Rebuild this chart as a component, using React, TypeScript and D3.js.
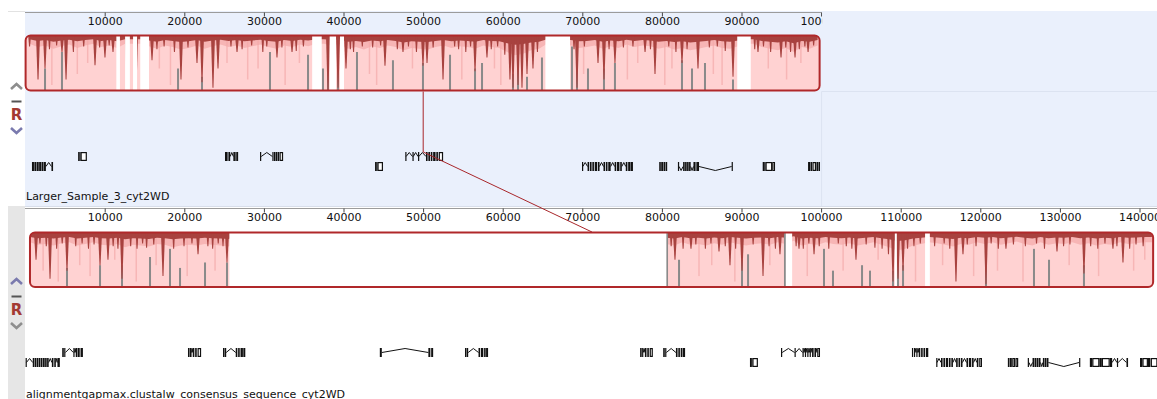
import React from "react";
import * as d3 from "d3";

// ---------- data (kb unless noted) ----------
const topTicks = [10000, 20000, 30000, 40000, 50000, 60000, 70000, 80000, 90000, 100000];
const bottomTicks = [10000, 20000, 30000, 40000, 50000, 60000, 70000, 80000, 90000, 100000, 110000, 120000, 130000, 140000];

const topName = "Larger_Sample_3_cyt2WD";
const bottomName = "alignmentgapmax.clustalw_consensus_sequence_cyt2WD";

const topExtent = [0, 99.75];
const bottomExtent = [0.55, 141.65];

// similarity (%) per 1 kb bin
const topSim = [
  90, 86, 88, 84, 87, 89, 85, 88, 90, 86,
  88, 85, 90, 90, 90, 87, 84, 88, 86, 83,
  85, 88, 84, 87, 89, 86, 88, 85, 87, 89,
  86, 84, 88, 86, 89, 87, 90, 90, 88, 90,
  84, 86, 83, 87, 85, 88, 86, 82, 85, 84,
  83, 86, 88, 85, 87, 86, 84, 88, 86, 85,
  80, 76, 78, 82, 84, 90, 90, 90, 88, 85,
  86, 88, 84, 87, 85, 89, 86, 88, 87, 84,
  86, 83, 85, 82, 84, 86, 88, 85, 84, 87,
  90, 90, 86, 84, 82, 85, 80, 86, 84, 88,
];
const bottomSim = [
  88, 85, 86, 84, 87, 88, 84, 86, 88, 85,
  84, 86, 82, 85, 84, 83, 86, 85, 82, 84,
  85, 84, 86, 85, 84, 83, 90, 90, 90, 90,
  90, 90, 90, 90, 90, 90, 90, 90, 90, 90,
  90, 90, 90, 90, 90, 90, 90, 90, 90, 90,
  90, 90, 90, 90, 90, 90, 90, 90, 90, 90,
  90, 90, 90, 90, 90, 90, 90, 90, 90, 90,
  90, 90, 90, 90, 90, 90, 90, 90, 90, 90,
  86, 84, 88, 85, 86, 84, 87, 85, 88, 86,
  84, 86, 87, 85, 88, 86, 90, 84, 86, 85,
  88, 86, 85, 87, 84, 86, 88, 85, 82, 78,
  80, 84, 86, 88, 87, 85, 83, 86, 85, 88,
  86, 88, 85, 87, 89, 86, 84, 88, 85, 87,
  86, 88, 85, 87, 84, 86, 85, 88, 86, 87,
  88, 88,
];

const topGaps = [[11.4, 11.85], [12.5, 13.1], [13.5, 14.0], [14.4, 15.5], [36.0, 37.2], [38.2, 39.0], [39.5, 40.0], [65.3, 68.4], [89.4, 91.1]];
const bottomGaps = [[25.6, 80.5], [95.5, 96.3], [109.2, 109.45], [113.0, 113.6]];

// [kb, depth fraction]
const topSpikes = [[1.56, 0.8], [2.44, 0.6], [4.57, 0.3], [5.08, 0.8], [8.72, 0.54], [9.97, 0.4], [10.98, 0.3], [12.74, 0.8], [13.87, 0.95], [15.88, 0.45], [19.52, 0.8], [21.53, 0.5], [22.16, 0.85], [23.54, 0.95], [24.17, 0.6], [26.56, 0.3], [31.58, 0.4], [33.47, 0.3], [37.99, 1.0], [39.25, 0.95], [40.25, 0.6], [45.15, 0.55], [47.41, 0.3], [49.92, 0.55], [50.43, 0.5], [52.44, 0.8], [56.46, 0.65], [57.96, 0.4], [60.85, 0.8], [61.23, 0.95], [61.86, 0.9], [62.36, 0.95], [62.99, 0.7], [63.74, 0.6], [69.27, 0.95], [71.91, 0.5], [72.66, 0.8], [74.04, 0.5], [77.82, 0.3], [79.07, 0.7], [82.46, 0.5], [84.47, 0.6], [88.87, 0.75], [92.01, 0.3], [94.9, 0.4], [96.66, 0.4], [98.3, 0.3]];
const bottomSpikes = [[1.31, 0.5], [3.07, 0.85], [5.2, 0.7], [9.35, 0.6], [10.35, 0.5], [12.11, 0.85], [17.26, 0.8], [21.66, 0.4], [25.3, 0.55], [81.58, 0.5], [83.59, 0.3], [87.11, 0.35], [88.49, 0.6], [90.0, 0.7], [92.64, 0.8], [94.77, 0.4], [97.16, 0.3], [99.05, 0.4], [104.32, 0.5], [108.97, 0.9], [109.6, 0.85], [110.23, 0.7], [116.88, 0.9], [117.76, 0.4], [120.65, 0.95], [123.16, 0.3], [129.57, 0.35], [132.96, 0.75], [136.6, 0.3], [137.86, 0.55]];

// small dips along the top edge [kb, depth fraction]
const topMinor = [[0.5, .2], [3.0, .25], [3.9, .18], [6.0, .3], [7.3, .2], [9.3, .22], [10.5, .18], [16.5, .25], [17.4, .2], [18.7, .3], [20.4, .22], [25.8, .2], [27.2, .25], [28.4, .18], [29.8, .3], [30.3, .2], [32.2, .22], [34.0, .28], [34.9, .2], [40.8, .25], [41.2, .3], [42.3, .2], [43.6, .22], [44.6, .18], [46.7, .25], [48.1, .2], [49.1, .3], [51.2, .22], [53.9, .2], [54.4, .25], [55.3, .3], [55.9, .2], [58.5, .25], [59.3, .2], [60.2, .35], [64.3, .3], [68.9, .25], [70.2, .2], [73.3, .25], [75.1, .22], [76.3, .2], [78.5, .25], [80.8, .2], [81.7, .3], [83.1, .25], [85.9, .22], [86.9, .2], [87.9, .28], [91.6, .25], [92.7, .2], [93.6, .3], [95.5, .22], [96.1, .3], [97.2, .25], [97.9, .2], [99.0, .18]];
const bottomMinor = [[1.8, .2], [2.6, .25], [3.9, .3], [4.6, .2], [6.3, .25], [7.1, .2], [7.9, .3], [8.6, .22], [11.0, .25], [11.6, .3], [13.2, .25], [14.0, .3], [14.7, .2], [15.2, .28], [16.1, .22], [18.6, .3], [19.9, .25], [20.9, .2], [22.9, .25], [23.5, .3], [24.2, .2], [24.8, .25], [81.1, .25], [82.6, .3], [84.2, .22], [85.4, .3], [86.1, .2], [87.9, .25], [89.2, .3], [91.4, .22], [93.4, .25], [94.2, .3], [96.8, .25], [97.7, .3], [98.4, .2], [99.7, .25], [100.9, .3], [102.1, .2], [103.1, .25], [103.8, .3], [105.6, .22], [106.7, .28], [107.6, .3], [108.4, .4], [110.8, .3], [111.6, .25], [112.4, .2], [114.2, .25], [115.4, .2], [116.1, .3], [118.3, .22], [119.4, .25], [121.3, .2], [122.2, .3], [124.1, .22], [125.6, .25], [127.0, .2], [128.0, .3], [130.4, .25], [131.2, .22], [133.8, .25], [134.7, .3], [135.6, .2], [137.1, .25], [138.7, .3], [139.5, .22], [140.4, .25]];

// [kb, top fraction]
const topGray = [[2.44, 0.6], [4.57, 0.3], [12.74, 0.75], [13.87, 0.6], [19.15, 0.6], [22.16, 0.75], [30.7, 0.3], [35.48, 0.35], [37.36, 0.6], [37.99, 0.5], [39.25, 0.5], [41.63, 0.3], [46.15, 0.45], [49.92, 0.5], [53.32, 0.35], [56.46, 0.6], [57.34, 0.5], [61.23, 0.7], [61.86, 0.6], [62.99, 0.75], [64.87, 0.4], [68.64, 0.2], [69.27, 0.3], [70.65, 0.6], [72.66, 0.6], [74.04, 0.5], [82.46, 0.45], [83.72, 0.6], [85.35, 0.5], [88.87, 0.8]];
const bottomGray = [[5.2, 0.65], [9.35, 0.6], [12.11, 0.6], [15.63, 0.45], [18.14, 0.3], [19.4, 0.65], [22.54, 0.55], [25.3, 0.55], [80.58, 0.0], [82.09, 0.5], [90.0, 0.5], [90.76, 0.4], [95.4, 0.0], [100.3, 0.3], [101.43, 0.7], [105.08, 0.6], [106.08, 0.7], [108.97, 0.7], [109.6, 0.5], [110.23, 0.6], [113.24, 0.5], [120.65, 0.1], [126.68, 0.3], [128.57, 0.5], [132.96, 0.6]];

// [kb, depth fraction]
const topLight = [[3.3, 0.9], [6.5, 0.7], [7.8, 0.5], [16.8, 0.6], [18.2, 0.9], [25.3, 0.5], [27.9, 0.8], [29.2, 0.6], [32.6, 0.9], [34.4, 0.5], [43.2, 0.7], [44.1, 0.9], [48.6, 0.6], [54.8, 0.8], [58.9, 0.6], [59.7, 0.9], [70.1, 0.7], [75.6, 0.8], [76.9, 0.5], [80.3, 0.9], [81.2, 0.6], [86.4, 0.7], [87.5, 0.9], [93.3, 0.6], [95.6, 0.8], [97.4, 0.5]];
const bottomLight = [[2.2, 0.7], [4.1, 0.9], [6.8, 0.6], [8.1, 0.8], [11.2, 0.5], [13.9, 0.9], [16.4, 0.6], [20.3, 0.8], [23.8, 0.7], [84.6, 0.8], [86.2, 0.6], [89.1, 0.9], [93.5, 0.6], [98.2, 0.8], [102.7, 0.7], [107.1, 0.5], [111.8, 0.9], [115.2, 0.6], [119.1, 0.8], [122.1, 0.7], [125.3, 0.9], [131.1, 0.6], [134.8, 0.8], [139.2, 0.7], [140.6, 0.5]];

type Gene = { row: number; dip?: boolean; exons: number[][] };

const topGenes: Gene[] = [
  { row: 1, exons: [[0.8, 1.05], [1.1, 1.35], [1.4, 1.65], [1.7, 1.95], [2.0, 2.25], [2.3, 2.55], [3.25, 3.45]] },
  { row: 0, exons: [[6.6, 6.75], [6.75, 6.9], [6.9, 7.7]] },
  { row: 0, exons: [[25.05, 25.3], [25.35, 25.5], [25.55, 25.7], [26.1, 26.3], [26.35, 26.5], [26.5, 26.7]] },
  { row: 0, exons: [[29.45, 29.6], [31.0, 31.15], [31.2, 31.4], [31.45, 31.6], [31.65, 31.85], [31.9, 32.35]] },
  { row: 1, exons: [[43.9, 44.05], [44.05, 44.2], [44.2, 44.9]] },
  { row: 0, exons: [[47.7, 47.8], [48.6, 48.7], [49.3, 49.4], [50.3, 50.5], [50.6, 50.8], [50.9, 51.1], [51.2, 51.5], [51.6, 51.8], [51.9, 52.45]] },
  { row: 1, exons: [[69.9, 70.0], [70.6, 70.8], [70.9, 71.1], [71.2, 71.4], [71.5, 71.8], [71.9, 72.1], [72.6, 72.8], [72.9, 73.1], [73.2, 73.5], [74.0, 74.2], [74.3, 74.6], [74.7, 74.9], [75.4, 75.6], [75.7, 76.0], [76.05, 76.3]] },
  { row: 1, exons: [[79.6, 79.8], [79.85, 80.1], [80.15, 80.35], [80.4, 80.6]] },
  { row: 1, dip: true, exons: [[81.95, 82.1], [82.6, 82.8], [82.85, 83.05], [83.1, 83.3], [83.35, 83.55], [83.9, 84.1], [84.15, 84.3], [84.35, 84.6], [88.7, 88.85]] },
  { row: 1, exons: [[92.6, 92.8], [92.8, 92.95], [92.95, 93.8], [93.8, 94.15]] },
  { row: 1, exons: [[98.3, 98.55], [98.6, 98.8], [98.85, 99.3], [99.35, 99.55], [99.6, 99.8]] },
];

const bottomGenes: Gene[] = [
  { row: 1, exons: [[0.0, 0.1], [0.9, 1.1], [1.15, 1.35], [1.4, 1.6], [1.65, 1.85], [1.9, 2.1], [2.15, 2.4], [2.45, 2.65], [2.7, 2.9], [3.3, 3.5], [3.6, 3.8], [4.0, 4.3]] },
  { row: 0, exons: [[4.6, 4.8], [4.85, 5.0], [6.0, 6.15], [6.3, 6.5], [6.55, 6.8], [6.9, 7.2]] },
  { row: 0, exons: [[20.4, 20.6], [20.65, 20.85], [21.0, 21.2], [21.3, 21.5], [21.6, 22.05]] },
  { row: 0, exons: [[24.8, 25.0], [25.05, 25.2], [26.4, 26.6], [26.7, 26.9], [27.0, 27.3], [27.35, 27.6]] },
  { row: 0, exons: [[44.5, 44.75], [50.6, 50.85], [50.95, 51.2]] },
  { row: 0, exons: [[55.2, 55.4], [55.45, 55.6], [56.9, 57.1], [57.2, 57.5], [57.6, 57.8], [57.85, 58.1]] },
  { row: 0, exons: [[77.2, 77.4], [77.45, 77.6], [77.8, 78.0], [78.1, 78.3], [78.4, 78.8]] },
  { row: 0, exons: [[80.1, 80.3], [80.35, 80.5], [81.7, 81.9], [82.0, 82.2], [82.3, 82.5], [82.55, 82.85]] },
  { row: 1, exons: [[91.0, 91.15], [91.15, 91.3], [91.3, 92.0]] },
  { row: 0, exons: [[94.9, 95.05], [96.6, 96.75], [97.6, 97.75], [97.9, 98.05], [98.2, 98.35], [98.5, 98.65], [98.8, 99.0], [99.1, 99.3], [99.45, 99.8]] },
  { row: 0, exons: [[111.35, 111.5], [111.6, 111.75], [111.9, 112.05], [112.2, 112.4], [112.5, 112.7], [112.8, 113.0], [113.1, 113.4]] },
  { row: 1, exons: [[114.4, 114.5], [115.0, 115.2], [115.3, 115.5], [115.6, 115.9], [116.0, 116.2], [116.3, 116.5], [116.9, 117.1], [117.2, 117.4], [117.5, 117.7], [118.2, 118.4], [118.5, 118.8], [118.9, 119.1], [119.5, 119.7], [119.8, 120.15]] },
  { row: 1, exons: [[123.4, 123.6], [123.65, 123.9], [123.95, 124.3], [124.35, 124.7]] },
  { row: 1, dip: true, exons: [[125.9, 126.05], [126.5, 126.7], [126.75, 126.95], [127.0, 127.2], [127.25, 127.5], [127.8, 128.0], [128.05, 128.2], [128.25, 128.5], [132.35, 132.5]] },
  { row: 1, exons: [[133.7, 134.0], [134.0, 134.9], [134.9, 135.2], [135.2, 136.2], [136.2, 136.5], [137.1, 137.25], [138.3, 138.5]] },
  { row: 1, exons: [[140.0, 140.3], [140.3, 141.0], [141.0, 141.3], [141.35, 142.2]] },
];

// homologous cursor position (bp) in each sequence
const cursorTop = 49950;
const cursorBottom = 71150;

// ---------- drawing ----------
const xs = d3.scaleLinear().domain([0, 100000]).range([25.6, 821.6]);
const kx = (kb: number) => xs(kb * 1000);

const DARK = "#A8423F";
const SALMON = "#F3A8A8";
const PINK = "#FFD2D2";
const LIGHT = "#F7B6B6";
const GRAY = "#8A8A8A";
const BORDER = "#B0282A";

type Cfg = {
  id: string;
  rulerY: number;
  rulerEnd: number;
  tickLabelY: number;
  blockTop: number;
  blockBottom: number;
  rowY: number[];
  nameY: number;
  ctrlY: number;
  upColor: string;
  downColor: string;
};

const TOP: Cfg = { id: "t", rulerY: 12.5, rulerEnd: 821.6, tickLabelY: 24.5, blockTop: 35.5, blockBottom: 90.5, rowY: [152, 162], nameY: 200, ctrlY: 84, upColor: "#8E8E8E", downColor: "#7A7AAE" };
const BOT: Cfg = { id: "b", rulerY: 208.5, rulerEnd: 1157, tickLabelY: 220.5, blockTop: 232.5, blockBottom: 287, rowY: [348, 358], nameY: 397.5, ctrlY: 279, upColor: "#7A7AAE", downColor: "#8E8E8E" };

function Panel({ cfg, ticks, name, extent, sim, gaps, spikes, minor, gray, light, genes }: any) {
  const top = cfg.blockTop;
  const h = cfg.blockBottom - cfg.blockTop;
  const x0 = kx(extent[0]);
  const x1 = kx(extent[1]);
  const simPts = sim.map((v: number, i: number) => [Math.min(Math.max(i + 0.5, extent[0]), extent[1]), v]);
  const darkArea = d3.area<any>().x((d) => kx(d[0])).y0(top).y1((d) => top + (1 - d[1] / 100) * h * 0.7);
  const salmonArea = d3.area<any>().x((d) => kx(d[0])).y0(top).y1((d) => top + (1 - d[1] / 100) * h * 1.5);
  const line = d3.line();
  const cy = cfg.ctrlY;
  const spike = (d: number[], w: number) => {
    const cx = kx(d[0]);
    const yb = top + d[1] * h;
    return `M${cx - w},${top}L${cx + w},${top}L${cx + 0.5},${yb}L${cx - 0.5},${yb}Z`;
  };
  return (
    <g>
      <defs>
        <clipPath id={`blk-${cfg.id}`}>
          <rect x={x0} y={top} width={x1 - x0} height={h} rx={5} />
        </clipPath>
        <clipPath id={`rul-${cfg.id}`}>
          <rect x={0} y={cfg.rulerY - 6} width={cfg.rulerEnd + 0.5} height={20} />
        </clipPath>
      </defs>
      {/* ruler */}
      <line x1={25} x2={cfg.rulerEnd} y1={cfg.rulerY} y2={cfg.rulerY} stroke="#9C9C9C" strokeWidth={1} />
      <g clipPath={`url(#rul-${cfg.id})`}>
        {ticks.map((t: number) => (
          <g key={t}>
            <line x1={xs(t)} x2={xs(t)} y1={cfg.rulerY} y2={cfg.rulerY + 4} stroke="#444" strokeWidth={1} />
            <text x={xs(t)} y={cfg.tickLabelY} fontSize={11} textAnchor="middle" fill="#111">{t}</text>
          </g>
        ))}
      </g>
      {/* block */}
      <g clipPath={`url(#blk-${cfg.id})`}>
        <rect x={x0} y={top} width={x1 - x0} height={h} fill={PINK} />
        {light.map((d: number[], i: number) => (
          <rect key={"l" + i} x={kx(d[0]) - 0.75} y={top} width={1.5} height={d[1] * h} fill={LIGHT} />
        ))}
        <path d={salmonArea(simPts) || ""} fill={SALMON} opacity={0.7} />
        <path d={darkArea(simPts) || ""} fill={DARK} />
        {gray.map((d: number[], i: number) => (
          <rect key={"g" + i} x={kx(d[0]) - 1} y={top + d[1] * h} width={2} height={h * (1 - d[1])} fill={GRAY} />
        ))}
        {minor.map((d: number[], i: number) => (
          <path key={"m" + i} d={spike(d, 1.4)} fill={DARK} />
        ))}
        {spikes.map((d: number[], i: number) => (
          <path key={"s" + i} d={spike(d, 2)} fill={DARK} />
        ))}
        {gaps.map((g: number[], i: number) => (
          <rect key={"w" + i} x={kx(g[0])} y={top} width={kx(g[1]) - kx(g[0])} height={h} fill="#fff" />
        ))}
      </g>
      <rect x={x0} y={top} width={x1 - x0} height={h} rx={5} fill="none" stroke={BORDER} strokeWidth={2} />
      {/* genes */}
      {genes.map((g: Gene, gi: number) => {
        const y = cfg.rowY[g.row];
        const mid = y + 4.5;
        const introns = [];
        for (let i = 0; i < g.exons.length - 1; i++) {
          const a = kx(g.exons[i][1]);
          const b = kx(g.exons[i + 1][0]);
          if (b - a > 1) {
            const peak = g.dip ? mid + 4 : mid - 4;
            introns.push(<path key={i} d={line([[a, mid], [(a + b) / 2, peak], [b, mid]]) || ""} fill="none" stroke="#111" strokeWidth={1} />);
          }
        }
        return (
          <g key={gi}>
            {introns}
            {g.exons.map((e, ei) => {
              const xa = kx(e[0]);
              const w = kx(e[1]) - xa;
              if (w < 2.6) {
                return <rect key={ei} x={xa} y={y} width={Math.max(w, 1.2)} height={9} fill="#111" />;
              }
              return <rect key={ei} x={xa + 0.6} y={y + 0.6} width={w - 1.2} height={7.8} fill="#fff" stroke="#111" strokeWidth={1.2} />;
            })}
          </g>
        );
      })}
      {/* name */}
      <text x={26} y={cfg.nameY} fontSize={11} fill="#111">{name}</text>
      {/* controls */}
      <path d={line([[11, cy + 5], [16.5, cy], [22, cy + 5]]) || ""} fill="none" stroke={cfg.upColor} strokeWidth={2.6} />
      <line x1={11.5} x2={21.5} y1={cy + 17.5} y2={cy + 17.5} stroke="#555" strokeWidth={2} />
      <text x={16.5} y={cy + 35.5} fontSize={15} fontWeight="bold" textAnchor="middle" fill="#A33A32">R</text>
      <path d={line([[11, cy + 44], [16.5, cy + 49], [22, cy + 44]]) || ""} fill="none" stroke={cfg.downColor} strokeWidth={2.6} />
    </g>
  );
}

export default function App() {
  const cx1 = xs(cursorTop);
  const cx2 = xs(cursorBottom);
  return (
    <svg width={1157} height={399} style={{ position: "absolute", left: 0, top: 0, fontFamily: "'DejaVu Sans', sans-serif" }}>
      <rect x={0} y={0} width={1157} height={399} fill="#fff" />
      <rect x={25} y={11} width={1132} height={195} fill="#EAF0FC" />
      <line x1={8} x2={25} y1={11.5} y2={11.5} stroke="#E2E2E2" />
      <line x1={821.6} x2={1157} y1={91.5} y2={91.5} stroke="#DCE3F1" />
      <line x1={821.6} x2={821.6} y1={91.5} y2={206} stroke="#DCE3F1" />
      <rect x={8} y={206} width={17} height={193} fill="#E6E6E6" />
      <line x1={25} x2={1157} y1={206.5} y2={206.5} stroke="#D8DEEA" />
      <Panel cfg={TOP} ticks={topTicks} name={topName} extent={topExtent} sim={topSim} gaps={topGaps} spikes={topSpikes} minor={topMinor} gray={topGray} light={topLight} genes={topGenes} />
      <Panel cfg={BOT} ticks={bottomTicks} name={bottomName} extent={bottomExtent} sim={bottomSim} gaps={bottomGaps} spikes={bottomSpikes} minor={bottomMinor} gray={bottomGray} light={bottomLight} genes={bottomGenes} />
      <path d={`M${cx1},${TOP.blockBottom + 1}L${cx1},152L${cx2},${BOT.blockTop - 0.5}`} fill="none" stroke="#A8262A" strokeWidth={1} />
    </svg>
  );
}
